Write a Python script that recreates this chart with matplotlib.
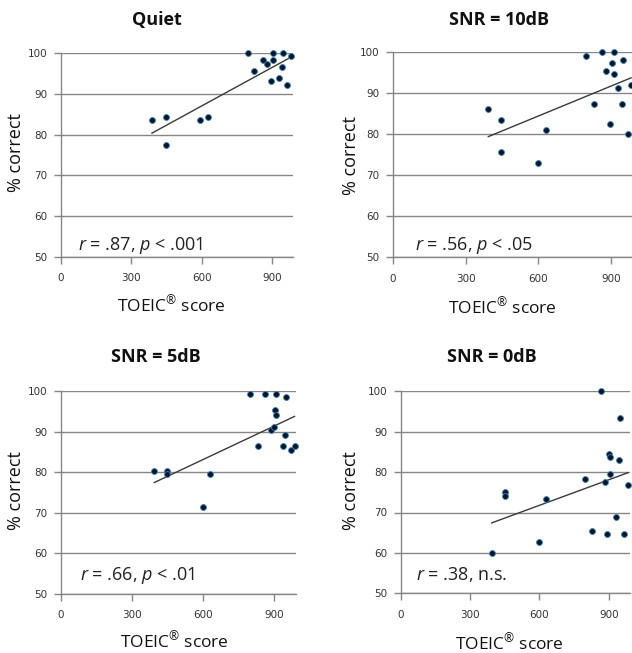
import matplotlib.pyplot as plt
import numpy as np

plt.rcParams['font.family'] = ['Open Sans', 'DejaVu Sans']
plt.rcParams['mathtext.fontset'] = 'custom'
plt.rcParams['mathtext.rm'] = 'Open Sans'
plt.rcParams['mathtext.it'] = 'Open Sans:italic'

W, H = 632, 653

titles = ["Quiet", "SNR = 10dB", "SNR = 5dB", "SNR = 0dB"]
stats = [r"$r$ = .87, $p$ < .001", r"$r$ = .56, $p$ < .05",
         r"$r$ = .66, $p$ < .01", r"$r$ = .38, n.s."]

quiet_x = [388, 448, 448, 594, 627, 796, 824, 860, 878, 905, 906, 898, 929, 946, 943, 966, 981]
quiet_y = [83.7, 84.4, 77.5, 83.7, 84.4, 100, 95.6, 98.3, 97.4, 100, 98.3, 93.2, 94.0, 100, 96.6, 92.2, 99.3]

snr10_x = [393, 447, 447, 598, 630, 798, 862, 911, 905, 949, 880, 911, 828, 930, 945, 895, 969, 982]
snr10_y = [86.2, 83.6, 75.7, 73.0, 81.0, 99.0, 100, 100, 97.4, 98.1, 95.5, 94.6, 87.5, 91.4, 87.5, 82.6, 80.0, 92.1]

snr5_x = [394, 449, 449, 631, 599, 799, 863, 908, 949, 903, 908, 886, 901, 831, 945, 937, 969, 986]
snr5_y = [80.3, 80.3, 79.5, 79.5, 71.5, 99.3, 99.3, 99.3, 98.6, 95.2, 94.1, 90.5, 91.2, 86.4, 89.1, 86.4, 85.5, 86.4]

snr0_x = [393, 449, 449, 598, 627, 799, 866, 829, 901, 907, 944, 906, 883, 948, 933, 894, 967, 983]
snr0_y = [60.0, 75.1, 74.2, 62.6, 73.3, 78.4, 100, 65.3, 84.6, 83.7, 82.9, 79.5, 77.6, 93.3, 68.8, 64.6, 64.6, 76.7]

xs = [quiet_x, snr10_x, snr5_x, snr0_x]
ys = [quiet_y, snr10_y, snr5_y, snr0_y]

x_ticks = [0, 300, 600, 900]
y_ticks = [50, 60, 70, 80, 90, 100]

# axes boxes in pixels: left, right, top(y=100), bottom(y=50)
boxes = [(61, 293, 53.3, 256.7), (393, 633, 52.3, 257.3),
         (61, 295.5, 391, 593.7), (401, 629.5, 391.3, 593.3)]
title_pos = [(157, 20), (499, 20), (156, 357), (492, 357)]
ylab_pos = [(16, 153), (351, 156), (16, 491), (351, 491)]
xlab_pos = [(171, 305), (502, 307), (174, 641), (509, 643)]
stat_pos = [(78, 245), (415, 245), (80, 576), (416, 574)]

fig = plt.figure(figsize=(W / 100, H / 100), dpi=100)

def fx(px):
    return px / W

def fy(py):
    return 1 - py / H

grey = '#868686'
for i in range(4):
    l, r, t, b = boxes[i]
    ax = fig.add_axes([fx(l), fy(b), fx(r) - fx(l), fy(t) - fy(b)])
    x = np.array(xs[i])
    y = np.array(ys[i])
    k, c = np.polyfit(x, y, 1)
    xl = np.array([x.min(), x.max()])
    ax.plot(xl, k * xl + c, color='#3a3a3a', lw=1.0, zorder=2)
    ax.scatter(x, y, s=18, color='#0b1724', edgecolors='#3d7fc0', linewidths=0.6,
               zorder=3, clip_on=False)
    ax.set_xlim(0, 990)
    ax.set_ylim(50, 100)
    ax.set_xticks(x_ticks)
    ax.set_yticks(y_ticks)
    ax.yaxis.grid(True, color=grey, lw=1.0)
    ax.set_axisbelow(True)
    for s in ['top', 'right']:
        ax.spines[s].set_visible(False)
    for s in ['left', 'bottom']:
        ax.spines[s].set_color(grey)
        ax.spines[s].set_linewidth(1.0)
    ax.tick_params(axis='both', color=grey, length=5, width=1.0, labelcolor='#333333',
                   labelsize=7.5, labelfontfamily='DejaVu Sans')
    ax.tick_params(axis='x', pad=7)
    ax.tick_params(axis='y', pad=5)

    fig.text(fx(title_pos[i][0]), fy(title_pos[i][1]), titles[i], ha='center', va='center',
             fontsize=13, fontweight='bold', color='#111111')
    fig.text(fx(ylab_pos[i][0]), fy(ylab_pos[i][1]), "% correct", ha='center', va='center',
             rotation=90, fontsize=13, color='#111111')
    fig.text(fx(xlab_pos[i][0]), fy(xlab_pos[i][1]), "TOEIC$^{\u00ae}$ score", ha='center',
             va='center', fontsize=12.5, color='#111111')
    fig.text(fx(stat_pos[i][0]), fy(stat_pos[i][1]), stats[i], ha='left', va='center',
             fontsize=13, color='#222222')

fig.savefig("out.png", dpi=100)
